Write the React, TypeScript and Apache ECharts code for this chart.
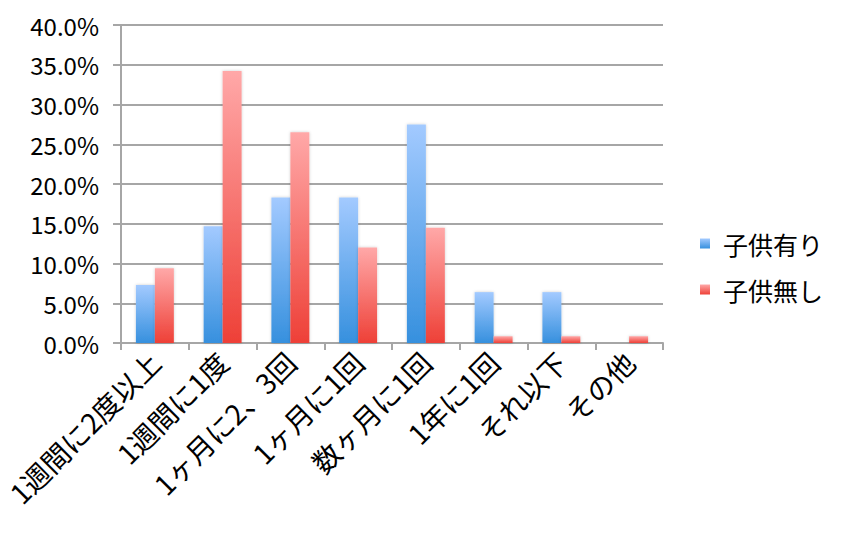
import React, { useEffect, useRef } from "react";
import * as echarts from "echarts";

const categories = [
  "1週間に2度以上",
  "1週間に1度",
  "1ヶ月に2、3回",
  "1ヶ月に1回",
  "数ヶ月に1回",
  "1年に1回",
  "それ以下",
  "その他",
];
const seriesNames = ["子供有り", "子供無し"];
const withChildren = [7.3, 14.7, 18.3, 18.3, 27.5, 6.4, 6.4, 0];
const withoutChildren = [9.4, 34.2, 26.5, 12.0, 14.5, 0.85, 0.85, 0.85];
const yTicks = { min: 0, max: 40, interval: 5 };

const FONT = "'Noto Sans CJK JP', 'Noto Sans', sans-serif";

export default function App() {
  const ref = useRef<HTMLDivElement>(null);
  useEffect(() => {
    if (!ref.current) return;
    const chart = echarts.init(ref.current, null, { renderer: "svg" });
    const blue = new echarts.graphic.LinearGradient(0, 0, 0, 1, [
      { offset: 0, color: "#a3caff" },
      { offset: 1, color: "#3690de" },
    ]);
    const red = new echarts.graphic.LinearGradient(0, 0, 0, 1, [
      { offset: 0, color: "#ffa8a8" },
      { offset: 1, color: "#ee4037" },
    ]);
    chart.setOption({
      animation: false,
      backgroundColor: "#ffffff",
      textStyle: { fontFamily: FONT },
      grid: { left: 121, right: 198, top: 25, bottom: 191, containLabel: false },
      legend: {
        orient: "vertical",
        left: 695,
        top: 226,
        itemGap: 21,
        itemWidth: 10,
        itemHeight: 10,
        icon: "rect",
        textStyle: { fontSize: 25, color: "#000", fontFamily: FONT, padding: [0, 0, 0, 8] },
        data: [
          { name: seriesNames[0], itemStyle: { color: blue } },
          { name: seriesNames[1], itemStyle: { color: red } },
        ],
      },
      xAxis: {
        type: "category",
        data: categories,
        axisLine: { lineStyle: { color: "#a6a6a6", width: 2 } },
        axisTick: { show: true, length: 7, lineStyle: { color: "#a6a6a6", width: 2 } },
        axisLabel: {
          rotate: 45,
          interval: 0,
          fontSize: 28,
          color: "#000",
          fontFamily: FONT,
          margin: 14,
        },
      },
      yAxis: {
        type: "value",
        min: yTicks.min,
        max: yTicks.max,
        interval: yTicks.interval,
        axisLine: { show: true, lineStyle: { color: "#a6a6a6", width: 2 } },
        axisTick: { show: true, length: 8, lineStyle: { color: "#a6a6a6", width: 2 } },
        splitLine: { lineStyle: { color: "#a6a6a6", width: 2 } },
        axisLabel: {
          fontSize: 24,
          color: "#000",
          fontFamily: FONT,
          margin: 22,
          formatter: (v: number) => v.toFixed(1) + "%",
        },
      },
      series: [
        {
          name: seriesNames[0],
          type: "bar",
          data: withChildren,
          barGap: "0%",
          barCategoryGap: "44%",
          itemStyle: {
            color: blue,
            shadowBlur: 3,
            shadowColor: "rgba(0,0,0,0.2)",
          },
        },
        {
          name: seriesNames[1],
          type: "bar",
          data: withoutChildren,
          barGap: "0%",
          barCategoryGap: "44%",
          itemStyle: {
            color: red,
            shadowBlur: 3,
            shadowColor: "rgba(0,0,0,0.2)",
          },
        },
      ],
    });
    return () => chart.dispose();
  }, []);
  return (
    <div
      ref={ref}
      style={{ position: "fixed", left: 0, top: 0, width: 861, height: 534 }}
    />
  );
}
